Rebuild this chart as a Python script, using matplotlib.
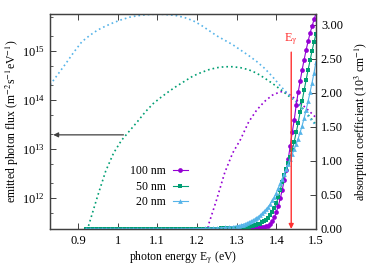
import numpy as np
import matplotlib
matplotlib.use('Agg')
import matplotlib.pyplot as plt
from matplotlib.ticker import LogLocator, NullFormatter, FormatStrFormatter

plt.rcParams['font.family'] = 'serif'
plt.rcParams['font.serif'] = ['Liberation Serif', 'DejaVu Serif']
plt.rcParams['mathtext.fontset'] = 'stix'

# ---- emitted photon flux (log10 of m^-2 s^-1 eV^-1), dotted curves ----
flux_e_20 = [0.83, 0.85, 0.87, 0.89, 0.91, 0.93, 0.95, 0.97, 0.99, 1.01, 1.03, 1.05,
             1.07, 1.09, 1.11, 1.13, 1.15, 1.17, 1.19, 1.21, 1.23, 1.25, 1.27, 1.29,
             1.31, 1.33, 1.35, 1.37, 1.39, 1.41, 1.43, 1.45, 1.47, 1.49, 1.50]
flux_20 = [14.31, 14.53, 14.75, 14.98, 15.19, 15.32, 15.43, 15.51, 15.58, 15.64, 15.69, 15.72,
           15.74, 15.75, 15.75, 15.74, 15.72, 15.68, 15.62, 15.53, 15.42, 15.31, 15.22, 15.13,
           15.02, 14.91, 14.79, 14.65, 14.48, 14.29, 14.12, 13.96, 13.77, 13.57, 13.48]

flux_e_50 = [0.92, 0.93, 0.95, 0.97, 0.99, 1.01, 1.03, 1.05, 1.07, 1.09, 1.11, 1.13,
             1.15, 1.17, 1.19, 1.21, 1.23, 1.25, 1.27, 1.29, 1.31, 1.33, 1.35, 1.37,
             1.39, 1.41, 1.43, 1.45, 1.47, 1.49, 1.50]
flux_50 = [11.25, 11.52, 12.05, 12.55, 12.92, 13.18, 13.37, 13.56, 13.76, 13.93, 14.06, 14.18,
           14.29, 14.39, 14.49, 14.56, 14.62, 14.66, 14.68, 14.68, 14.66, 14.62, 14.55, 14.45,
           14.34, 14.22, 14.09, 13.97, 13.80, 13.60, 13.50]

flux_e_100 = [1.225, 1.23, 1.25, 1.27, 1.29, 1.31, 1.33, 1.35, 1.37, 1.39, 1.41, 1.42,
              1.43, 1.45, 1.47, 1.49, 1.50]
flux_100 = [11.30, 11.48, 11.98, 12.52, 12.92, 13.20, 13.55, 13.79, 13.97, 14.10, 14.17, 14.17,
            14.13, 14.01, 13.87, 13.72, 13.64]

# ---- absorption coefficient (10^3 cm^-1), lines with markers ----
abs_e = list(np.round(np.arange(0.92, 1.3001, 0.01), 3)) + \
        list(np.round(np.arange(1.305, 1.5001, 0.005), 3))

abs_100 = [0.0] * 39 + [
    0.003, 0.004, 0.005, 0.006, 0.007, 0.008, 0.010, 0.012, 0.014, 0.016,
    0.019, 0.022, 0.027, 0.033, 0.040, 0.050, 0.075, 0.11, 0.17, 0.25,
    0.34, 0.45, 0.58, 0.72, 0.86, 1.03, 1.22, 1.42, 1.60, 1.82,
    2.01, 2.17, 2.34, 2.49, 2.63, 2.76, 2.88, 2.98, 3.08, 3.17]

abs_50 = [0.0] * 25 + [
    0.001, 0.001, 0.002, 0.002, 0.003, 0.003, 0.004, 0.005, 0.006, 0.007,
    0.008, 0.010, 0.012, 0.013] + [
    0.015, 0.018, 0.021, 0.025, 0.030, 0.035, 0.040, 0.046, 0.053, 0.060,
    0.070, 0.080, 0.095, 0.11, 0.135, 0.165, 0.20, 0.25, 0.31, 0.38,
    0.47, 0.58, 0.69, 0.79, 0.88, 0.97, 1.06, 1.16, 1.28, 1.42,
    1.56, 1.72, 1.88, 2.04, 2.19, 2.34, 2.48, 2.62, 2.75, 2.87]

abs_20 = [0.0] * 24 + [
    0.002, 0.002, 0.003, 0.004, 0.005, 0.006, 0.008, 0.010, 0.012, 0.015,
    0.018, 0.022, 0.028, 0.035, 0.045] + [
    0.050, 0.057, 0.065, 0.075, 0.086, 0.10, 0.113, 0.128, 0.145, 0.163,
    0.183, 0.205, 0.23, 0.26, 0.29, 0.33, 0.37, 0.42, 0.47, 0.53,
    0.60, 0.67, 0.74, 0.81, 0.88, 0.95, 1.03, 1.10, 1.17, 1.25,
    1.33, 1.42, 1.52, 1.63, 1.75, 1.88, 2.01, 2.15, 2.30, 2.46]

labels = ['100 nm', '50 nm', '20 nm']
colors = ['#9400d3', '#009e73', '#56b4e9']
markers = ['o', 's', '^']

e_gamma = 1.4375

fig = plt.figure(figsize=(3.74, 2.70), dpi=100)
ax = fig.add_axes([0.134, 0.152, 0.711, 0.796])
ax2 = ax.twinx()

# flux curves on the log axis
for e, f, c in zip([flux_e_100, flux_e_50, flux_e_20], [flux_100, flux_50, flux_20], colors):
    ax.plot(e, 10 ** np.array(f), color=c, lw=1.2, ls=(0, (1, 1.8)), dash_capstyle='butt')

# absorption curves on the linear axis
for a, c, m, lab in zip([abs_100, abs_50, abs_20], colors, markers, labels):
    ax2.plot(abs_e, a, color=c, lw=0.8, marker=m, ms=3.4, mew=0, label=lab)

ax.set_xlim(0.83, 1.5)
ax.set_ylim(10 ** 11.37, 10 ** 15.755)
ax.set_yscale('log')
ax2.set_ylim(0, 3.16)

ax.set_xticks([0.9, 1.0, 1.1, 1.2, 1.3, 1.4, 1.5])
ax.set_xticklabels(['0.9', '1', '1.1', '1.2', '1.3', '1.4', '1.5'])
ax.yaxis.set_major_locator(LogLocator(base=10, numticks=10))
ax.yaxis.set_minor_locator(LogLocator(base=10, subs=(2.0, 5.0), numticks=10))
ax.yaxis.set_minor_formatter(NullFormatter())
ax2.set_yticks([0, 0.5, 1.0, 1.5, 2.0, 2.5, 3.0])
ax2.yaxis.set_major_formatter(FormatStrFormatter('%.2f'))

ax.tick_params(axis='x', direction='in', top=True, length=4, width=0.7, labelsize=9, pad=4, color='#404040')
ax.tick_params(axis='y', which='major', direction='in', right=False, length=4, width=0.7, labelsize=9, color='#404040')
ax.tick_params(axis='y', which='minor', direction='in', right=False, length=2, width=0.6, color='#404040')
ax2.tick_params(axis='y', direction='in', length=4, width=0.7, labelsize=9, color='#404040')

for a_ in (ax, ax2):
    for s in a_.spines.values():
        s.set_color('#404040')
        s.set_linewidth(0.9)

ax.set_xlabel(r'photon energy E$_\mathrm{\gamma}$ (eV)', fontsize=8.5, labelpad=2)
ax.set_ylabel(r'emitted photon flux (m$^{-2}$s$^{-1}$eV$^{-1}$)', fontsize=8.5, labelpad=1)
ax2.set_ylabel(r'absorption coefficient (10$^3$ cm$^{-1}$)', fontsize=8.5, labelpad=7)

# E_gamma marker
ax2.annotate('', xy=(e_gamma, 0.0), xytext=(e_gamma, 2.60),
             arrowprops=dict(arrowstyle='-|>', color='#ff3030', lw=1.0,
                             mutation_scale=7, shrinkA=0, shrinkB=0))
ax2.text(e_gamma, 2.68, r'E$_\mathrm{\gamma}$', color='#ff3030', fontsize=9, ha='center', va='bottom')

# arrow pointing at the left axis
ax.annotate('', xy=(0.838, 1.95e13), xytext=(1.015, 1.95e13),
            arrowprops=dict(arrowstyle='-|>', color='#404040', lw=0.9,
                            mutation_scale=7, shrinkA=0, shrinkB=0))

leg = ax2.legend(loc='upper right', bbox_to_anchor=(0.515, 0.405), bbox_transform=fig.transFigure,
                 frameon=False, markerfirst=False, fontsize=8.5, handlelength=1.3,
                 handletextpad=0.6, labelspacing=0.3, borderaxespad=0)

fig.savefig('out.png', dpi=100)
